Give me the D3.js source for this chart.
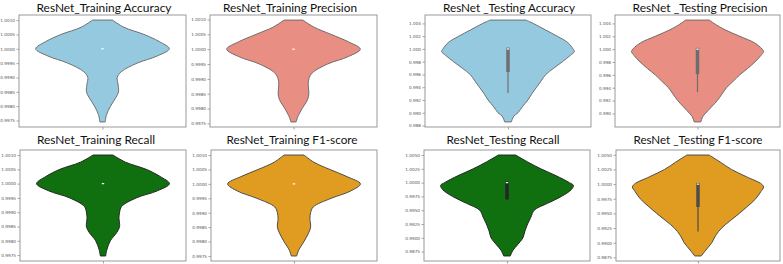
<!DOCTYPE html>
<meta charset="utf-8">
<script src="https://d3js.org/d3.v7.min.js"></script>
<style>
  body { margin: 0; background: #fff; }
  .tick text { font-family: "DejaVu Sans", sans-serif; fill: #555; }
</style>
<div id="chart"></div>
<script>

// panel titles, in reading order
var titles = ["ResNet_Training Accuracy", "ResNet_Training Precision", "ResNet _Testing Accuracy", "ResNet _Testing Precision",
              "ResNet_Training Recall", "ResNet_Training F1-score", "ResNet_Testing Recall", "ResNet _Testing F1-score"];

var fills = ["#94c9df", "#e98e83", "#94c9df", "#e98e83", "#107010", "#df9c20", "#107010", "#df9c20"];
var edges = ["#6f6f6f", "#6d6d6d", "#6f6f6f", "#6d6d6d", "#262626", "#4c4c4c", "#262626", "#4c4c4c"];

// violin extents (cut at data min / max)
var lows  = [0.99745, 0.99755, 0.98857, 0.98868, 0.99747, 0.9975, 0.98671, 0.98774];
var highs = [1.0010, 1.00098, 1.00452, 1.00452, 1.0010, 1.0010, 1.0050, 1.00496];

// density outline: [value, relative half width]
var trainAcc = [[0.99745,0.04],[0.9977,0.06],[0.998,0.12],[0.9983,0.20],[0.9985,0.24],[0.9988,0.23],[0.999,0.22],[0.9992,0.28],[0.9995,0.52],[0.99975,0.82],[1,1],[1.00025,0.85],[1.0005,0.62],[1.00075,0.32],[1.001,0.15]];
var trainPrec = [[0.99755,0.04],[0.9977,0.06],[0.998,0.13],[0.9983,0.21],[0.9985,0.23],[0.9988,0.22],[0.999,0.23],[0.9992,0.28],[0.9995,0.51],[0.99975,0.82],[1,1],[1.00025,0.82],[1.0005,0.56],[1.00075,0.30],[1.00098,0.14]];
var testAcc = [[0.98857,0.05],[0.9895,0.09],[0.990,0.15],[0.991,0.22],[0.992,0.30],[0.993,0.36],[0.994,0.43],[0.995,0.50],[0.996,0.57],[0.997,0.69],[0.998,0.82],[0.999,0.94],[0.9996,1],[1.000,0.98],[1.001,0.90],[1.002,0.74],[1.003,0.56],[1.004,0.38],[1.00452,0.27]];
var testPrec = [[0.98868,0.05],[0.9895,0.08],[0.990,0.12],[0.991,0.21],[0.992,0.30],[0.993,0.37],[0.994,0.44],[0.995,0.54],[0.996,0.64],[0.997,0.76],[0.998,0.87],[0.999,0.96],[0.9996,1],[1.000,0.98],[1.001,0.86],[1.002,0.64],[1.003,0.42],[1.004,0.25],[1.00452,0.18]];
var trainRec = [[0.99747,0.04],[0.9977,0.06],[0.998,0.11],[0.9983,0.21],[0.9985,0.25],[0.9988,0.24],[0.999,0.25],[0.9992,0.28],[0.9995,0.50],[0.99975,0.82],[1,1],[1.00025,0.86],[1.0005,0.65],[1.00075,0.34],[1.001,0.15]];
var trainF1 = [[0.9975,0.04],[0.9977,0.07],[0.998,0.15],[0.9983,0.22],[0.9985,0.25],[0.9988,0.24],[0.999,0.25],[0.9992,0.29],[0.9995,0.56],[0.99975,0.85],[1,1],[1.00025,0.80],[1.0005,0.54],[1.00075,0.30],[1.001,0.15]];
var testRec = [[0.98671,0.05],[0.98775,0.09],[0.98875,0.16],[0.990,0.24],[0.99125,0.27],[0.9925,0.31],[0.99375,0.36],[0.995,0.41],[0.99625,0.61],[0.9975,0.82],[0.99875,0.97],[0.9995,1],[1.000,0.94],[1.00125,0.74],[1.0025,0.51],[1.00375,0.31],[1.005,0.13]];
var testF1 = [[0.98774,0.05],[0.98875,0.12],[0.990,0.21],[0.99125,0.27],[0.9925,0.36],[0.99375,0.49],[0.995,0.63],[0.99625,0.76],[0.9975,0.88],[0.99875,0.96],[0.9995,1],[1.000,0.97],[1.00125,0.74],[1.0025,0.51],[1.00375,0.34],[1.00496,0.17]];
var profiles = [trainAcc, trainPrec, testAcc, testPrec, trainRec, trainF1, testRec, testF1];

// inner box: median, quartiles, lower whisker
var medians = [1, 1, 1, 1, 1, 1, 1, 1];
var q1s = [1, 1, 0.9964, 0.9961, 1, 1, 0.9970, 0.9961];
var q3s = [1, 1, 1.0002, 1.0002, 1, 1, 1.0002, 1.0002];
var whiskerLows = [1, 1, 0.9931, 0.9933, 1, 1, 0.9968, 0.9919];

// y tick labels
var ticksTrain = [0.9975, 0.998, 0.9985, 0.999, 0.9995, 1.0, 1.0005, 1.001];
var ticksTestA = [0.988, 0.990, 0.992, 0.994, 0.996, 0.998, 1.000, 1.002, 1.004];
var ticksTestP = [0.990, 0.992, 0.994, 0.996, 0.998, 1.000, 1.002, 1.004];
var ticksTestR = [0.9875, 0.99, 0.9925, 0.995, 0.9975, 1.0, 1.0025, 1.005];
var tickSets = [ticksTrain, ticksTrain, ticksTestA, ticksTestP, ticksTrain, ticksTrain, ticksTestR, ticksTestR];
var tickFormats = [".4f", ".4f", ".3f", ".3f", ".4f", ".4f", ".4f", ".4f"];

// layout: axes frames [x0, y0, x1, y1] and title [centre, baseline, width]
var frames = [[19,15,186,127],[210,15,377,127],[425,15,591,127],[615,15,780,127],
              [20,150,186,261],[211,150,377,261],[424,150,590,261],[616,150,780,261]];
var titlePos = [[104,12,135],[290,12,134],[509,12,132],[700,12,135],
                [96,144,118],[292,144,131],[503,144,113],[698,144,129]];

var svg = d3.select("#chart").append("svg")
  .attr("width", 783)
  .attr("height", 264);

titles.forEach(function(t, i) {
  var f = frames[i];
  var r = highs[i] - lows[i];
  var y = d3.scaleLinear()
    .domain([lows[i] - 0.05 * r, highs[i] + 0.05 * r])
    .range([f[3], f[1]]);
  var x = d3.scaleLinear().domain([-0.5, 0.5]).range([f[0], f[2]]);

  var g = svg.append("g");

  // violin body
  var area = d3.area()
    .y(function(d) { return y(d[0]); })
    .x0(function(d) { return x(-0.4 * d[1]); })
    .x1(function(d) { return x(0.4 * d[1]); })
    .curve(d3.curveCatmullRom);

  g.append("path")
    .datum(profiles[i])
    .attr("d", area)
    .attr("fill", fills[i])
    .attr("stroke", edges[i])
    .attr("stroke-width", 1);

  // inner box
  if (q3s[i] > q1s[i]) {
    g.append("line")
      .attr("x1", x(0)).attr("x2", x(0))
      .attr("y1", y(whiskerLows[i])).attr("y2", y(q3s[i]))
      .attr("stroke", edges[i]).attr("stroke-width", 1.2);
    g.append("line")
      .attr("x1", x(0)).attr("x2", x(0))
      .attr("y1", y(q1s[i])).attr("y2", y(q3s[i]))
      .attr("stroke", edges[i]).attr("stroke-width", 3.5);
  }
  g.append("rect")
    .attr("x", x(0) - 1.2).attr("y", y(medians[i]) - 0.6)
    .attr("width", 2.4).attr("height", 1.2)
    .attr("fill", "#fff");

  // axes
  var ya = g.append("g")
    .attr("transform", "translate(" + f[0] + ",0)")
    .call(d3.axisLeft(y).tickValues(tickSets[i]).tickFormat(d3.format(tickFormats[i])).tickSize(2.5).tickPadding(1.5));
  ya.select(".domain").remove();
  ya.selectAll(".tick line").attr("stroke", "#666").attr("stroke-width", 0.6);
  ya.selectAll(".tick text").style("font-size", "4.2px");

  var xa = g.append("g")
    .attr("transform", "translate(0," + f[3] + ")")
    .call(d3.axisBottom(x).tickValues([0]).tickFormat("").tickSize(2.5));
  xa.select(".domain").remove();
  xa.selectAll(".tick line").attr("stroke", "#666").attr("stroke-width", 0.6);

  g.append("rect")
    .attr("x", f[0]).attr("y", f[1])
    .attr("width", f[2] - f[0]).attr("height", f[3] - f[1])
    .attr("fill", "none")
    .attr("stroke", "#999")
    .attr("stroke-width", 1);

  // title
  var tp = titlePos[i];
  svg.append("text")
    .attr("x", tp[0]).attr("y", tp[1])
    .attr("text-anchor", "middle")
    .attr("textLength", tp[2])
    .attr("lengthAdjust", "spacingAndGlyphs")
    .style("font-family", "Lato, sans-serif")
    .style("font-size", "11.8px")
    .style("fill", "#111")
    .text(t);
});

</script>
